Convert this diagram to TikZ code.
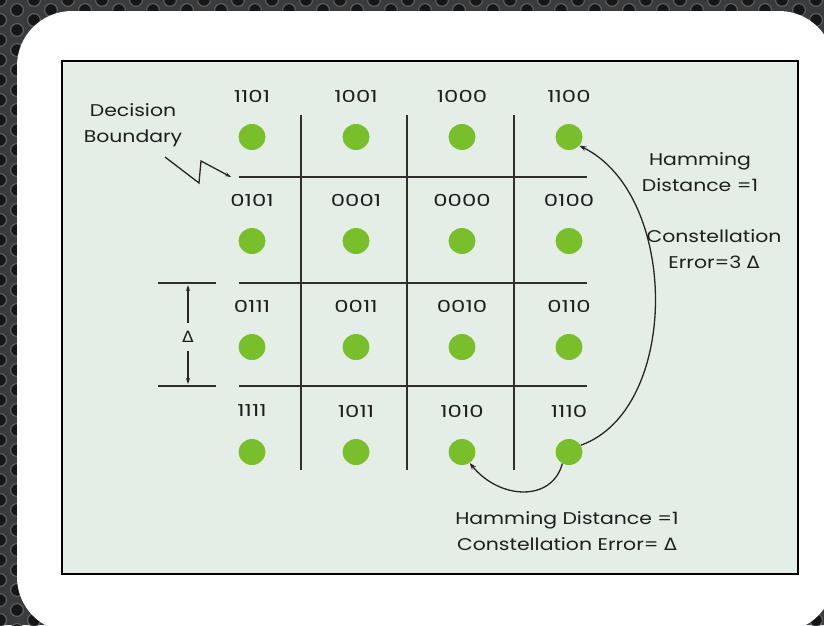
\documentclass[tikz,border=0pt]{standalone}
\usepackage{fontspec}
\setmainfont{Poppins}[FakeStretch=1.2]
\newfontfamily\digitfont{Poppins}[FakeStretch=1.38]
\newfontfamily\dvfont{DejaVu Sans}[FakeStretch=1.1]
\usetikzlibrary{arrows.meta,shapes.geometric}
\definecolor{bgdark}{HTML}{3A3B3D}
\definecolor{holedark}{HTML}{161616}
\definecolor{holerim}{HTML}{5C5E60}
\definecolor{panelfill}{HTML}{E5EDE7}
\definecolor{dotgreen}{HTML}{78BF2B}
\definecolor{txt}{HTML}{1E1E1E}
\definecolor{gridc}{HTML}{2E2E2E}
\newcommand{\Dl}{{\dvfont Δ}}
\tikzset{
  gdot/.style={ellipse, fill=dotgreen, minimum width=27pt, minimum height=26pt, inner sep=0pt},
  blabel/.style={font=\digitfont\fontsize{16.5}{18}\selectfont, text=txt, inner sep=0pt},
  ctext/.style={font=\fontsize{17}{26.5}\selectfont, text=txt, align=center, inner sep=0pt},
  gridline/.style={gridc, line width=2pt},
  thinarrow/.style={line width=1.3pt, black!85, -{Stealth[length=7pt,width=5pt]}},
}
\begin{document}
\begin{tikzpicture}[x=1pt,y=-1pt]
\useasboundingbox (0,0) rectangle (824,625);
\begin{scope}
\clip (0,0) rectangle (824,625);
\fill[bgdark] (0,0) rectangle (824,625);
\foreach \i in {0,...,49}{
  \foreach \j in {0,...,32}{
    \pgfmathsetmacro{\yy}{\j*20 + mod(\i,2)*10}
    \fill[holedark, draw=holerim, line width=1.2pt] (\i*17,\yy) circle (6.4);
  }
}
\end{scope}
\fill[white, rounded corners=55pt] (17,11) rectangle (834,632);
\draw[black, line width=2.2pt, fill=panelfill] (62,61) rectangle (798,574);
% grid lines
\foreach \y in {177,283,386}{ \draw[gridline] (239,\y) -- (587,\y); }
\foreach \x in {301,407,514}{ \draw[gridline] (\x,115) -- (\x,470); }
% delta dimension
\draw[gridline] (158,283) -- (216,283);
\draw[gridline] (158,386) -- (216,386);
\node[font=\fontsize{15.5}{17}\selectfont, text=txt, inner sep=0pt] (dl) at (188,337) {\Dl};
\coordinate (dtop) at (188,285);
\coordinate (dbot) at (188,384);
\draw[line width=1.3pt, black!85, -{Stealth[length=6pt,width=4pt]}] (dl.north) ++(0,-8) -- (dtop);
\draw[line width=1.3pt, black!85, -{Stealth[length=6pt,width=4pt]}] (dl.south) ++(0,8) -- (dbot);
% dots and labels
\foreach \lab/\x/\y in {1101/252/137, 1001/356/137, 1000/462/137, 1100/569/137,
                        0101/252/241, 0001/356/241, 0000/462/241, 0100/569/241,
                        0111/252/347, 0011/356/347, 0010/462/347, 0110/569/347,
                        1111/252/452, 1011/356/452, 1010/462/452, 1110/569/452}{
  \node[gdot] (d\lab) at (\x,\y) {};
  \node[blabel] (t\lab) at (\x,\y-41) {\lab};
}
% decision boundary
\node[ctext] (db) at (133,125) {Decision\\Boundary};
\coordinate (zz1) at (165,157);
\coordinate (zz2) at (199,183);
\coordinate (zz3) at (201,161);
\coordinate (zz4) at (231,177);
\draw[line width=1.3pt, black!85, -{Stealth[length=6pt,width=4pt]}] (zz1) -- (zz2) -- (zz3) -- (zz4);
% arrows
\draw[thinarrow] (d1110.30) .. controls (680,410) and (680,195) .. (d1100.-40);
\draw[thinarrow] (d1110.-120) .. controls (552,502) and (500,500) .. (d1010.-55);
% annotations
\node[ctext] (hd1) at (700,172) {Hamming\\Distance =1};
\node[ctext] (ce1) at (714,249) {Constellation\\Error=3 \Dl};
\node[ctext] (hd2) at (567,531) {Hamming Distance =1\\Constellation Error= \Dl};
\end{tikzpicture}
\end{document}
